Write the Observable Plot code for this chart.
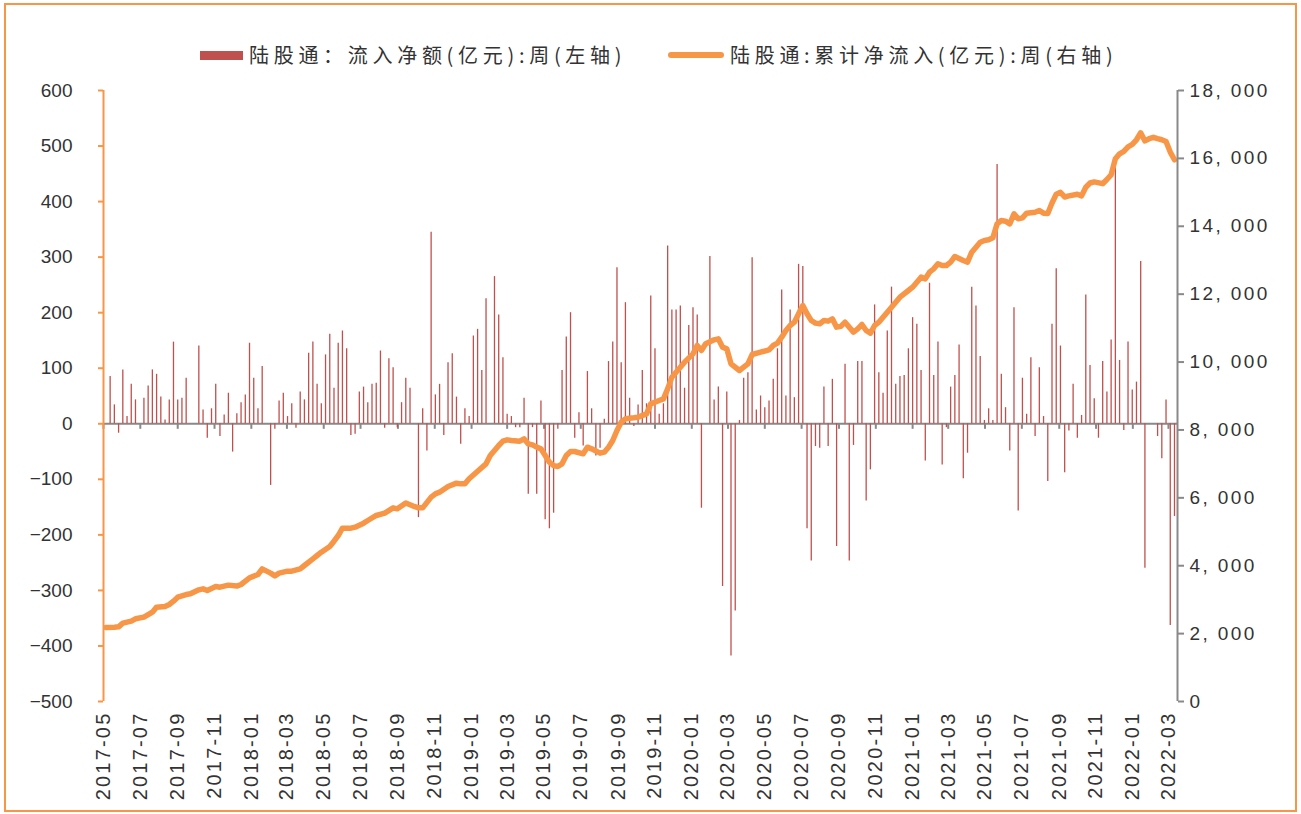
<!DOCTYPE html>
<html><head><meta charset="utf-8">
<script src="https://cdn.jsdelivr.net/npm/d3@7"></script>
<script src="https://cdn.jsdelivr.net/npm/@observablehq/plot@0.6"></script>
<style>
body{margin:0;background:#fff;}
#wrap{position:relative;width:1301px;height:814px;overflow:hidden;background:#fff;}
#frame{position:absolute;left:4px;top:3px;width:1293px;height:809px;box-sizing:border-box;border:2px solid #F79646;pointer-events:none;}
#legend{position:relative;height:75px;font-family:"Noto Sans CJK SC","Noto Sans",sans-serif;font-size:20px;color:#333;}
.item{position:absolute;top:40px;display:flex;align-items:center;white-space:nowrap;line-height:30px;}
.item .t{letter-spacing:4.7px;}
g[aria-label="x-axis tick label"] text{letter-spacing:2.2px;}
</style></head>
<body><div id="wrap">
<div id="legend">
<div class="item" style="left:200px"><span style="display:inline-block;width:43px;height:9px;background:#C0504D;margin-right:6px"></span><span class="t">陆股通：流入净额(亿元):周(左轴)</span></div>
<div class="item" style="left:668px"><span style="display:inline-block;width:56px;height:6px;border-radius:3px;background:#F79646;margin-right:6px"></span><span class="t">陆股通:累计净流入(亿元):周(右轴)</span></div>
</div>
<div id="chart"></div>
<div id="frame"></div>
</div>
<script>
// ---- data ----
const firstWeek = "2017-05-05";   // weekly, Fridays
const weeklyNet = [0,
 85,34,-17,97,13,71,43,0,46,68,97,89,48,7,43,147,43,46,82,0,0,140,25,-26,27,71,-23,16,55,-51,
 18,38,52,145,82,27,103,0,-111,-10,41,55,13,36,-8,57,43,127,147,71,36,124,161,64,145,167,135,-21,-19,57,66,38,
 71,73,131,-8,117,101,-7,38,82,64,0,-169,27,-49,345,52,71,-21,110,126,48,-37,27,13,158,170,96,225,0,265,196,119,17,
 13,-7,-7,46,-127,-7,-127,41,-173,-189,-161,-10,96,156,200,-26,20,-40,94,27,-58,-44,8,112,147,281,110,218,46,-5,34,
 96,36,230,135,17,36,320,205,205,212,64,177,209,196,-152,0,301,43,66,-293,57,-418,-337,6,82,92,299,25,50,29,41,80,
 135,241,50,205,47,287,283,-189,-247,-41,-44,66,-41,80,-221,0,107,-247,-39,112,112,-139,-83,214,92,55,167,246,71,85,87,135,
 191,179,96,-67,253,87,147,-74,-7,66,87,142,-99,-53,246,212,121,6,27,6,467,89,29,-49,209,-157,82,17,119,-23,101,13,
 -104,179,279,140,-88,-13,71,-26,15,232,105,45,-26,112,57,151,474,114,-12,147,61,75,292,-260,0,0,-23,-63,43,-363,-167
];
// cumulative net inflow: [week index, value]
const cumulative = [
 [0,2180],[2,2190],[3,2200],[4,2308],[6,2367],[7,2436],[9,2485],[11,2632],[12,2780],[14,2800],[15,2858],[16,2956],[17,3074],[19,3152],[20,3172],[22,3290],[23,3319],[24,3270],[26,3388],[27,3368],[29,3428],[31,3400],
 [32,3447],[34,3643],[36,3741],[37,3908],[39,3781],[40,3702],[41,3781],[43,3840],[44,3840],[46,3908],[47,4007],[49,4203],[50,4301],[51,4399],[53,4566],[54,4723],[55,4890],[56,5107],[58,5107],[59,5136],[61,5254],[62,5332],
 [64,5480],[66,5548],[68,5705],[69,5676],[71,5850],[73,5745],[74,5705],[75,5705],[77,6020],[78,6118],[79,6167],[81,6334],[83,6432],[84,6412],[85,6412],[86,6560],[88,6785],[90,7001],[91,7247],[93,7542],[94,7669],[95,7708],
 [96,7689],[98,7669],[99,7738],[100,7590],[101,7561],[102,7492],[103,7444],[104,7247],[105,7050],[106,6950],[107,6923],[108,7001],[109,7247],[110,7365],[111,7365],[113,7296],[114,7492],[115,7444],[117,7316],[118,7345],[119,7492],[120,7689],[121,7984],[122,8229],[123,8327],[125,8357],[126,8376],
 [128,8474],[129,8769],[131,8867],[132,8916],[133,9211],[134,9555],[136,9849],[137,9997],[139,10242],[140,10488],[141,10340],[142,10537],[144,10654],[145,10684],[146,10439],[147,10389],[148,9948],[150,9751],[151,9849],[152,9948],[153,10222],[155,10291],[157,10360],[158,10488],
 [159,10560],[160,10733],[161,10930],[162,11077],[163,11175],[164,11421],[165,11666],[166,11421],[167,11224],[168,11146],[169,11126],[170,11224],[171,11205],[172,11273],[173,11028],[174,11050],[175,11175],[177,10881],[178,10979],[179,11106],[180,10930],[181,10851],[182,11077],[183,11175],[184,11323],[186,11617],[187,11764],[188,11912],[190,12108],
 [191,12206],[192,12353],[193,12501],[194,12452],[195,12648],[196,12746],[197,12893],[198,12844],[199,12844],[200,12943],[201,13110],[203,12992],[204,12943],[205,13237],[207,13531],[208,13581],[209,13601],[210,13660],[211,14072],[212,14170],[213,14150],[214,14072],[215,14366],[216,14219],[217,14248],[218,14386],[220,14415],[221,14465],[222,14386],
 [223,14377],[224,14686],[225,14945],[226,14998],[227,14863],[228,14895],[230,14945],[231,14895],[232,15151],[233,15275],[234,15307],[236,15255],[237,15378],[238,15514],[239,15990],[240,16135],[241,16206],[242,16342],[243,16412],[244,16548],[245,16754],[246,16515],[247,16580],[248,16621],[249,16580],[250,16548],[251,16498],[252,16186],[253,15960]
];
const xTickLabels = ["2017-05","2017-07","2017-09","2017-11","2018-01","2018-03","2018-05","2018-07","2018-09","2018-11",
 "2019-01","2019-03","2019-05","2019-07","2019-09","2019-11","2020-01","2020-03","2020-05","2020-07","2020-09","2020-11",
 "2021-01","2021-03","2021-05","2021-07","2021-09","2021-11","2022-01","2022-03"];
const leftTicks = [-500,-400,-300,-200,-100,0,100,200,300,400,500,600];
const rightTicks = [0,2000,4000,6000,8000,10000,12000,14000,16000,18000];

// ---- chart ----
const RED = "#C0504D", ORANGE = "#F79646", GRAY = "#898989", TXT = "#333";
const start = new Date(firstWeek + "T00:00:00Z");
const xStart = new Date("2017-05-01T00:00:00Z"), xEnd = new Date("2022-03-16T00:00:00Z");
const toLeft = v => -500 + v * 1100 / 18000;
const toRight = y => Math.round((y + 500) * 18000 / 1100 / 100) * 100;
const fmtRight = v => v === 0 ? "0" : d3.format(",")(v).replace(",", ", ");
const tickDates = xTickLabels.map(s => new Date(s + "-01T00:00:00Z"));

const bars = weeklyNet.map((v, i) => ({date: d3.utcDay.offset(start, 7 * i), v})).filter(d => d.v !== 0);
const line = cumulative.map(([w, v]) => ({date: d3.utcDay.offset(start, 7 * w), v: toLeft(v)}));

const chart = Plot.plot({
  width: 1301, height: 739,
  marginLeft: 103, marginRight: 124, marginTop: 15, marginBottom: 113,
  x: {type: "utc", domain: [xStart, xEnd], label: null},
  y: {domain: [-500, 600], label: null},
  style: {fontFamily: "'Liberation Sans', Arial, sans-serif", fontSize: "19px", color: TXT, background: "transparent", overflow: "visible"},
  marks: [
    Plot.ruleY([0], {stroke: GRAY, strokeWidth: 2}),
    Plot.ruleX(tickDates, {x: d => d, y1: 0, y2: -10, stroke: GRAY, strokeWidth: 2}),
    Plot.ruleX(bars, {x: "date", y1: 0, y2: "v", stroke: RED, strokeWidth: 1.3}),
    Plot.line(line, {x: "date", y: "v", stroke: ORANGE, strokeWidth: 5.5, strokeLinejoin: "round", strokeLinecap: "round"}),
    Plot.ruleX([xStart], {stroke: ORANGE, strokeWidth: 2}),
    Plot.ruleX([xEnd], {stroke: GRAY, strokeWidth: 2}),
    Plot.axisY({anchor: "left", ticks: leftTicks, tickSize: 5, tickPadding: 26, stroke: ORANGE, strokeWidth: 2, fill: TXT, fontSize: 19, label: null,
      tickFormat: d => d < 0 ? "\u2212" + Math.abs(d) : String(d)}),
    Plot.axisY({anchor: "right", ticks: rightTicks.map(toLeft), tickSize: 6, tickPadding: 6, stroke: GRAY, strokeWidth: 2, fill: TXT, fontSize: 19, label: null,
      tickFormat: d => fmtRight(toRight(d))}),
    Plot.axisX({anchor: "bottom", ticks: tickDates, tickFormat: d3.utcFormat("%Y-%m"), tickRotate: -90, tickSize: 0, tickPadding: 10, fill: TXT, fontSize: 20, label: null})
  ]
});
chart.querySelectorAll('g[aria-label="y-axis tick label"]').forEach(g => {
  if (g.getAttribute("text-anchor") === "start") g.style.letterSpacing = "2.4px";
});
document.getElementById("chart").appendChild(chart);
</script>
</body></html>
